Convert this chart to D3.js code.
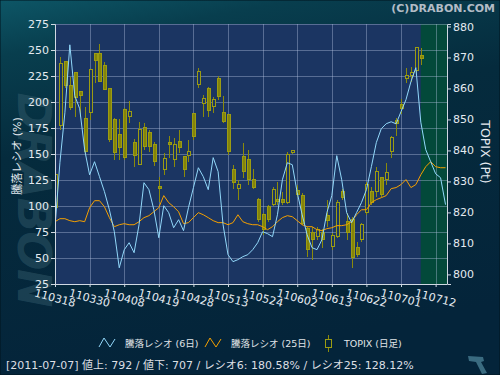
<!DOCTYPE html>
<meta charset="utf-8">
<style>
  body { margin: 0; background: #04243a; }
  svg text { font-family: "DejaVu Sans", "Noto Sans CJK JP", sans-serif; }
</style>
<body>
<script src="https://d3js.org/d3.v7.min.js"></script>
<script>
var width = 500,
    height = 375;

// x axis ticks: trading-day index and label
var tickIndex = [0, 7, 14, 21, 28, 35, 42, 49, 56, 63, 70, 77];
var tickLabels = ["110318", "110330", "110408", "110419", "110428", "110513",
                  "110524", "110602", "110613", "110622", "110701", "110712"];
var ratioTicks = [25, 50, 75, 100, 125, 150, 175, 200, 225, 250, 275];
var topixTicks = [800, 810, 820, 830, 840, 850, 860, 870, 880];
var lastDay = 74;

// TOPIX daily candles (2011-03-18 .. 2011-07-07)
var topixOpen = [821.5, 848.0, 868.6, 860.9, 865.1, 859.0, 850.3, 852.2, 871.2, 871.2,
                 867.4, 859.9, 849.9, 845.1, 853.2, 850.9, 842.5, 835.4, 847.4, 845.7,
                 841.9, 828.3, 833.8, 842.5, 837.0, 842.8, 838.0, 838.3, 851.9, 861.2,
                 855.1, 859.9, 854.1, 863.2, 852.2, 851.5, 833.8, 827.7, 838.0, 837.0,
                 830.6, 824.1, 819.3, 821.9, 822.5, 824.1, 824.1, 823.2, 839.3, 827.0,
                 825.4, 814.8, 813.5, 812.2, 813.5, 819.0, 809.0, 812.2, 826.7, 817.0,
                 817.7, 808.6, 811.2, 819.9, 826.7, 826.7, 831.2, 830.6, 839.6, 849.6,
                 854.8, 863.2, 864.1, 865.7, 870.6];
var topixHigh = [834.8, 870.3, 869.0, 863.8, 865.4, 859.3, 854.1, 866.1, 871.5, 874.4,
                 868.6, 860.3, 850.6, 850.3, 853.8, 856.1, 843.8, 849.3, 849.0, 846.7,
                 842.8, 831.5, 839.3, 844.5, 844.1, 846.7, 838.0, 843.5, 851.9, 866.7,
                 858.0, 860.6, 857.4, 864.1, 857.7, 851.5, 835.4, 830.6, 842.5, 840.3,
                 834.1, 824.8, 819.9, 822.5, 828.3, 829.9, 826.7, 839.6, 839.9, 829.0,
                 826.4, 815.4, 815.4, 815.4, 814.5, 824.1, 813.5, 824.1, 827.4, 819.9,
                 818.6, 810.3, 816.7, 829.9, 828.3, 834.5, 831.5, 836.1, 844.5, 850.6,
                 856.7, 866.7, 867.0, 873.2, 873.2];
var topixLow = [820.9, 846.7, 860.3, 853.2, 850.9, 850.9, 838.6, 849.9, 861.9, 862.2,
                859.6, 842.8, 837.0, 837.0, 837.0, 849.0, 834.8, 835.4, 840.3, 839.6,
                835.1, 823.2, 832.2, 837.7, 834.8, 839.3, 831.5, 836.4, 843.5, 860.3,
                850.9, 850.9, 852.2, 856.4, 849.0, 838.6, 827.4, 824.1, 831.2, 829.0,
                827.7, 817.0, 812.8, 817.0, 822.2, 822.5, 822.5, 822.8, 839.0, 825.1,
                816.1, 805.7, 804.8, 811.2, 808.6, 815.4, 808.0, 811.9, 824.1, 811.2,
                802.2, 805.7, 810.6, 819.3, 822.5, 825.1, 825.1, 829.0, 837.7, 844.5,
                851.9, 861.9, 862.2, 865.1, 867.7];
var topixClose = [832.2, 868.0, 860.9, 853.8, 857.0, 857.7, 839.6, 866.1, 869.0, 862.2,
                  859.6, 843.5, 839.3, 840.9, 837.7, 852.5, 838.3, 846.7, 841.2, 841.2,
                  836.4, 827.7, 837.4, 841.9, 841.9, 840.9, 833.8, 839.6, 844.5, 865.4,
                  856.7, 852.8, 856.4, 857.4, 849.3, 839.6, 829.6, 829.0, 833.2, 830.6,
                  828.0, 817.7, 814.5, 817.7, 827.4, 823.5, 823.2, 838.6, 839.9, 825.7,
                  816.4, 808.0, 811.2, 814.5, 811.2, 817.4, 812.5, 823.2, 824.8, 813.5,
                  805.4, 806.4, 816.1, 829.0, 823.2, 833.2, 825.7, 832.8, 844.1, 848.6,
                  853.5, 864.1, 865.1, 873.2, 869.6];

// advance/decline ratio (%)
var ratio6 = [80.1, 142, 189.6, 255, 206, 193.5, 154, 130, 142.6, 128.2,
              113.8, 96.4, 75.3, 40.6, 57.9, 64.7, 55.1, 82, 122.4, 115.7,
              96.4, 69.5, 100.3, 93.6, 79.1, 86.8, 76.3, 98.4, 117.6, 136.8,
              128.2, 115.7, 146.5, 133, 82, 53.2, 46.5, 48.4, 51.3, 53.2,
              58, 64.7, 75.3, 73.4, 70.5, 91.6, 125.2, 141.6, 139.7, 112.8,
              91.6, 72.4, 59.9, 58, 67.6, 93.6, 110, 148.4, 125.2, 93.6,
              84, 93.6, 103.3, 115.7, 137.8, 160.9, 174.3, 179.1, 181, 179,
              190.7, 202.2, 219.5, 233, 180.6, 154.2, 142.6, 131, 127.2, 101.3];
var ratio25 = [84.9, 87.8, 87.8, 85.9, 84.9, 85.9, 84.9, 98.4, 105.1, 105.1,
               99.3, 88.8, 80.1, 82, 83, 82, 82, 84.9, 88.8, 90.7,
               94.5, 98.4, 110, 103.2, 99.3, 94.5, 83, 84, 88.8, 93.6,
               91.6, 88.8, 85.9, 84, 84, 82, 84, 91.6, 84.9, 83,
               82, 82, 80.1, 77.2, 80.1, 84.9, 88.8, 90.7, 89.7, 85.9,
               82, 80.1, 80.1, 77.2, 76.3, 78.2, 79.1, 81.1, 81.1, 82,
               84.9, 91.6, 96.4, 96.4, 103.2, 106.1, 108, 110, 116.7, 117.7,
               120.6, 125.4, 117.7, 120.6, 130, 137.8, 142.6, 137.8, 136.8, 136.8];

var legendLabels = ["騰落レシオ (6日)", "騰落レシオ (25日)", "TOPIX (日足)"];
var statusText = "[2011-07-07]  値上: 792 / 値下: 707 / レシオ6: 180.58% / レシオ25: 128.12%";

var plotLeft = 55, plotRight = 447, plotTop = 24, plotBottom = 284;

var x = d3.scaleLinear().domain([0, 79.3]).range([plotLeft, plotRight]);
var yRatio = d3.scaleLinear().domain([25, 275]).range([plotBottom, plotTop]);
var yTopix = d3.scaleLinear().domain([796.9, 880.8]).range([plotBottom, plotTop]);

var svg = d3.select("body").append("svg")
    .attr("width", width)
    .attr("height", height);

var defs = svg.append("defs");
var bg = defs.append("linearGradient").attr("id", "bg")
    .attr("x1", 0).attr("y1", 0).attr("x2", 0.25).attr("y2", 1);
bg.append("stop").attr("offset", "0%").attr("stop-color", "#0d5666");
bg.append("stop").attr("offset", "14%").attr("stop-color", "#083e4e");
bg.append("stop").attr("offset", "40%").attr("stop-color", "#052b3d");
bg.append("stop").attr("offset", "100%").attr("stop-color", "#04243a");
defs.append("clipPath").attr("id", "plot")
  .append("rect")
    .attr("x", plotLeft).attr("y", plotTop)
    .attr("width", plotRight - plotLeft).attr("height", plotBottom - plotTop);

svg.append("rect")
    .attr("width", width).attr("height", height)
    .attr("fill", "url(#bg)")
    .attr("stroke", "#01151f");

// watermark
svg.append("text")
    .attr("transform", "translate(18,200) rotate(90)")
    .attr("text-anchor", "middle")
    .attr("font-size", 46)
    .attr("font-weight", "bold")
    .attr("font-style", "italic")
    .attr("textLength", 215)
    .attr("fill", "#3f6878")
    .attr("fill-opacity", 0.4)
    .text("DRABON");

svg.append("text")
    .attr("x", 495).attr("y", 12)
    .attr("text-anchor", "end")
    .attr("font-size", 11)
    .attr("font-weight", "bold")
    .attr("fill", "#b3bcc6")
    .text("(C)DRABON.COM");

// plot area
svg.append("rect")
    .attr("x", plotLeft).attr("y", plotTop)
    .attr("width", plotRight - plotLeft).attr("height", plotBottom - plotTop)
    .attr("fill", "#1b3562");
svg.append("rect")
    .attr("x", x(lastDay)).attr("y", plotTop)
    .attr("width", plotRight - x(lastDay)).attr("height", plotBottom - plotTop)
    .attr("fill", "#03493a");

var grid = svg.append("g")
    .attr("stroke", "#b4c2e0")
    .attr("stroke-opacity", 0.4)
    .attr("shape-rendering", "crispEdges");
grid.selectAll(".h").data(ratioTicks).enter().append("line")
    .attr("x1", plotLeft).attr("x2", plotRight)
    .attr("y1", function(d) { return Math.round(yRatio(d)) + 0.5; })
    .attr("y2", function(d) { return Math.round(yRatio(d)) + 0.5; });
grid.selectAll(".v").data(tickIndex.slice(1)).enter().append("line")
    .attr("y1", plotTop).attr("y2", plotBottom)
    .attr("x1", function(d) { return Math.round(x(d)) + 0.5; })
    .attr("x2", function(d) { return Math.round(x(d)) + 0.5; });

// candles: hollow = up day, filled = down day
var plot = svg.append("g").attr("clip-path", "url(#plot)");
var days = d3.range(topixOpen.length);
var candle = plot.selectAll(".candle").data(days).enter().append("g")
    .attr("shape-rendering", "crispEdges");
candle.append("line")
    .attr("x1", function(i) { return Math.round(x(i)) + 0.5; })
    .attr("x2", function(i) { return Math.round(x(i)) + 0.5; })
    .attr("y1", function(i) { return yTopix(topixHigh[i]); })
    .attr("y2", function(i) { return yTopix(topixLow[i]); })
    .attr("stroke", "#8a8a0c");
candle.append("rect")
    .attr("x", function(i) { return Math.round(x(i)) - 1; })
    .attr("width", 3)
    .attr("y", function(i) { return yTopix(Math.max(topixOpen[i], topixClose[i])); })
    .attr("height", function(i) {
      return Math.max(1, Math.abs(yTopix(topixOpen[i]) - yTopix(topixClose[i])));
    })
    .attr("fill", function(i) { return topixClose[i] >= topixOpen[i] ? "#1b3562" : "#84840a"; })
    .attr("stroke", "#9c9c12");

// ratio lines
var ratioLine = d3.line()
    .x(function(d, i) { return x(i); })
    .y(function(d) { return yRatio(d); });
plot.append("path")
    .datum(ratio25)
    .attr("d", ratioLine)
    .attr("fill", "none")
    .attr("stroke", "#f5a000")
    .attr("stroke-width", 1);
plot.append("path")
    .datum(ratio6)
    .attr("d", ratioLine)
    .attr("fill", "none")
    .attr("stroke", "#92d8fa")
    .attr("stroke-width", 1);

// axes
var axisColor = "#d0d8e2";
var leftAxis = svg.append("g")
    .attr("transform", "translate(" + plotLeft + ",0)")
    .call(d3.axisLeft(yRatio).tickValues(ratioTicks).tickSize(4).tickPadding(2));
var rightAxis = svg.append("g")
    .attr("transform", "translate(" + plotRight + ",0)")
    .call(d3.axisRight(yTopix).tickValues(topixTicks).tickSize(4).tickPadding(2));
var bottomAxis = svg.append("g")
    .attr("transform", "translate(0," + plotBottom + ")")
    .call(d3.axisBottom(x).tickValues(tickIndex).tickSize(3).tickFormat(""));
[leftAxis, rightAxis, bottomAxis].forEach(function(a) {
  a.selectAll("path").attr("stroke", axisColor);
  a.selectAll("line").attr("stroke", axisColor);
  a.selectAll("text")
    .attr("fill", "#e4eaf0")
    .attr("font-size", 11)
    .style("font-family", "'DejaVu Sans', sans-serif");
});
bottomAxis.select("path.domain").attr("d", "M" + plotLeft + ",0.5H" + plotRight);

svg.append("g").selectAll("text").data(tickIndex).enter().append("text")
    .attr("transform", function(d) { return "translate(" + x(d) + ",298) rotate(15)"; })
    .attr("text-anchor", "middle")
    .attr("dy", "0.35em")
    .attr("font-size", 11)
    .attr("fill", "#e4eaf0")
    .text(function(d, i) { return tickLabels[i]; });

// axis titles
svg.append("text")
    .attr("transform", "translate(21,156) rotate(-90)")
    .attr("text-anchor", "middle")
    .attr("font-size", 11)
    .attr("fill", "#e4eaf0")
    .text("騰落レシオ (%)");
svg.append("text")
    .attr("transform", "translate(481,152) rotate(90)")
    .attr("text-anchor", "middle")
    .attr("font-size", 12.5)
    .attr("fill", "#e4eaf0")
    .text("TOPIX (Pt)");

// legend
var legend = svg.append("g").attr("font-size", 9.5).attr("fill", "#e0e4e8");
legend.append("path")
    .attr("d", "M99,347L104,338L110,347L115,339")
    .attr("fill", "none").attr("stroke", "#92d8fa");
legend.append("text").attr("x", 125).attr("y", 347).text(legendLabels[0]);
legend.append("path")
    .attr("d", "M205,347L210,338L216,347L221,339")
    .attr("fill", "none").attr("stroke", "#f5a000");
legend.append("text").attr("x", 231).attr("y", 347).text(legendLabels[1]);
legend.append("line")
    .attr("x1", 328.5).attr("x2", 328.5).attr("y1", 335).attr("y2", 352)
    .attr("stroke", "#8a8a0c");
legend.append("rect")
    .attr("x", 325.5).attr("y", 339.5).attr("width", 6).attr("height", 8)
    .attr("fill", "#04243a").attr("stroke", "#9c9c12");
legend.append("text").attr("x", 344).attr("y", 347).text(legendLabels[2]);

svg.append("text")
    .attr("x", 6).attr("y", 369)
    .attr("font-size", 11)
    .attr("fill", "#dcdfe3")
    .text(statusText);

// small logo mark bottom right
svg.append("path")
    .attr("d", "M468,356L483,357L484,361L481,362L487,373L482,374L476,362L469,361Z")
    .attr("fill", "#3a6b80");
</script>
</body>
</html>
